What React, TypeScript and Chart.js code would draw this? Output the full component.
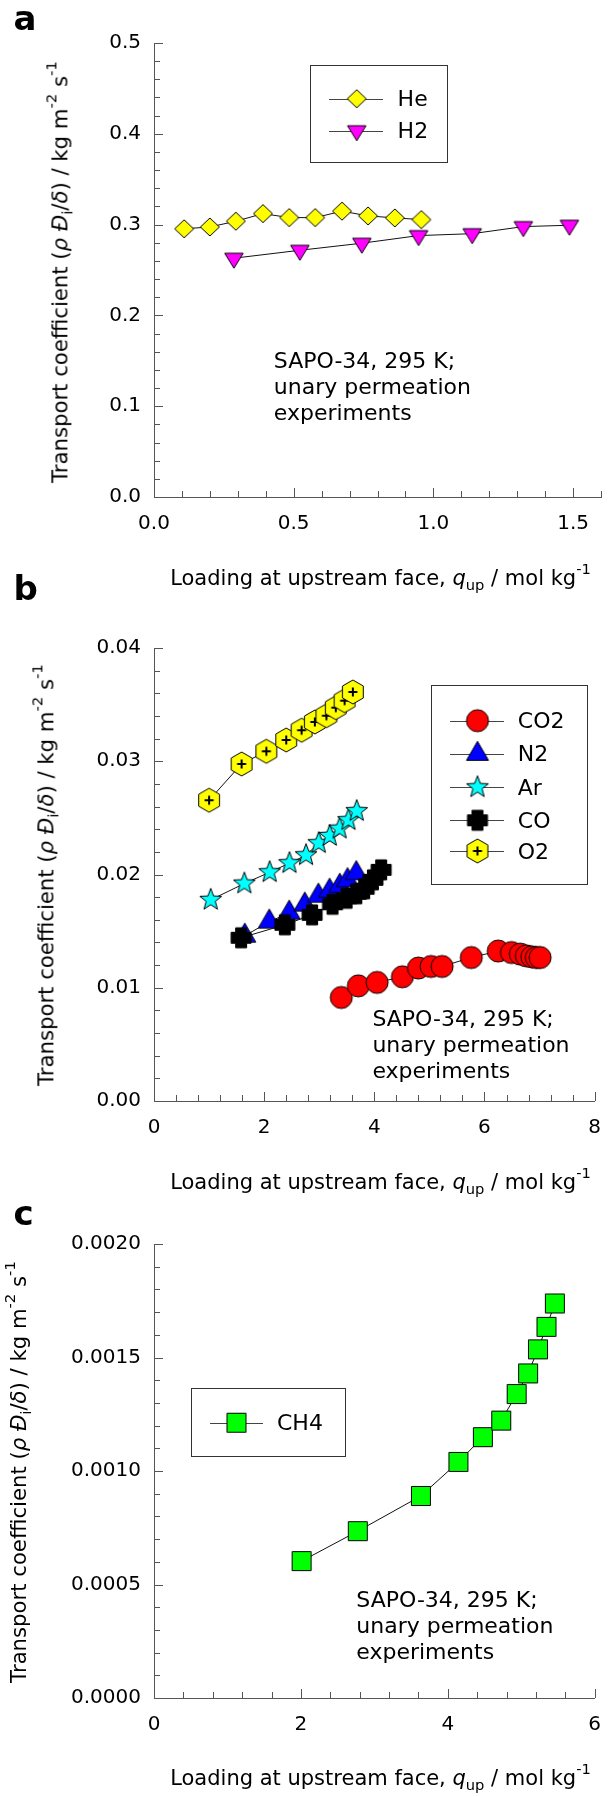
import React, { useEffect, useRef } from 'react';
import { Chart, registerables } from 'chart.js';

Chart.register(...registerables);

// ---------------- data ----------------
const heX = [0.108, 0.2, 0.293, 0.39, 0.484, 0.577, 0.673, 0.766, 0.862, 0.957];
const heY = [0.2954, 0.2974, 0.3037, 0.3121, 0.3077, 0.3077, 0.3148, 0.3096, 0.3074, 0.3055];
const h2X = [0.286, 0.522, 0.744, 0.947, 1.139, 1.322, 1.487];
const h2Y = [0.263, 0.2717, 0.2795, 0.2879, 0.29, 0.2978, 0.2993];

const co2X = [3.4, 3.71, 4.05, 4.51, 4.8, 5.03, 5.23, 5.76, 6.25, 6.49, 6.65, 6.76, 6.86, 6.94, 7.01];
const co2Y = [0.00914, 0.01017, 0.01047, 0.01097, 0.01174, 0.01188, 0.01188, 0.01267, 0.01324, 0.01311, 0.01297, 0.01282, 0.01273, 0.01267, 0.01267];
const n2X = [1.648, 2.093, 2.455, 2.737, 2.985, 3.188, 3.373, 3.514, 3.673];
const n2Y = [0.01459, 0.01583, 0.01662, 0.01733, 0.01812, 0.01856, 0.019, 0.01949, 0.02011];
const arX = [1.03, 1.64, 2.1, 2.46, 2.76, 2.99, 3.19, 3.37, 3.53, 3.68];
const arY = [0.01776, 0.0192, 0.0202, 0.021, 0.0217, 0.02277, 0.0234, 0.02405, 0.0248, 0.0256];
const coX = [1.581, 2.375, 2.87, 3.241, 3.497, 3.673, 3.815, 3.974, 4.124];
const coY = [0.01441, 0.01556, 0.01644, 0.01737, 0.0179, 0.0183, 0.01874, 0.01953, 0.02041];
const o2X = [1.0, 1.59, 2.04, 2.4, 2.68, 2.92, 3.13, 3.3, 3.46, 3.61];
const o2Y = [0.02656, 0.02976, 0.03088, 0.03188, 0.03274, 0.03347, 0.03402, 0.03473, 0.03535, 0.03612];

const ch4X = [2.01, 2.775, 3.634, 4.145, 4.478, 4.728, 4.938, 5.094, 5.228, 5.344, 5.458];
const ch4Y = [0.000603, 0.000735, 0.00089, 0.00104, 0.001149, 0.001222, 0.001339, 0.00143, 0.001536, 0.001635, 0.001738];

const annotationLines = ['SAPO-34, 295 K;', 'unary permeation', 'experiments'];

// ---------------- styling ----------------
const FONT = 'DejaVu Sans';
const AXIS = '#555';

function makeMarker(kind: string, fill: string): HTMLCanvasElement {
  const S = 32;
  const c = document.createElement('canvas');
  c.width = S;
  c.height = S;
  const g = c.getContext('2d')!;
  const cx = S / 2;
  const cy = S / 2;
  g.fillStyle = fill;
  g.strokeStyle = '#000';
  g.lineWidth = 1;
  g.beginPath();
  if (kind === 'diamond') {
    const rx = 9.5, ry = 9;
    g.moveTo(cx, cy - ry); g.lineTo(cx + rx, cy); g.lineTo(cx, cy + ry); g.lineTo(cx - rx, cy); g.closePath();
  } else if (kind === 'triDown') {
    const w = 18.5, h = 15;
    g.moveTo(cx - w / 2, cy - h / 3); g.lineTo(cx + w / 2, cy - h / 3); g.lineTo(cx, cy + (2 * h) / 3); g.closePath();
  } else if (kind === 'triUp') {
    const w = 22, h = 19;
    g.moveTo(cx - w / 2, cy + h / 3); g.lineTo(cx + w / 2, cy + h / 3); g.lineTo(cx, cy - (2 * h) / 3); g.closePath();
  } else if (kind === 'circle') {
    g.arc(cx, cy, 11, 0, Math.PI * 2);
  } else if (kind === 'star') {
    const R = 11.5, r = 4.8;
    for (let i = 0; i < 10; i++) {
      const a = -Math.PI / 2 + (i * Math.PI) / 5;
      const rr = i % 2 === 0 ? R : r;
      const px = cx + rr * Math.cos(a), py = cy + rr * Math.sin(a);
      if (i === 0) g.moveTo(px, py); else g.lineTo(px, py);
    }
    g.closePath();
  } else if (kind === 'plus') {
    const a = 10, b = 5.5;
    const pts = [[-b, -a], [b, -a], [b, -b], [a, -b], [a, b], [b, b], [b, a], [-b, a], [-b, b], [-a, b], [-a, -b], [-b, -b]];
    pts.forEach((p, i) => (i === 0 ? g.moveTo(cx + p[0], cy + p[1]) : g.lineTo(cx + p[0], cy + p[1])));
    g.closePath();
  } else if (kind === 'hex') {
    const R = 12;
    for (let k = 0; k < 6; k++) {
      const a = -Math.PI / 2 + (k * Math.PI) / 3;
      const px = cx + R * Math.cos(a), py = cy + R * Math.sin(a);
      if (k === 0) g.moveTo(px, py); else g.lineTo(px, py);
    }
    g.closePath();
  } else if (kind === 'square') {
    const h = 9.5;
    g.rect(cx - h, cy - h, 2 * h, 2 * h);
  }
  g.fill();
  g.stroke();
  if (kind === 'hex') {
    g.beginPath();
    g.lineWidth = 2;
    g.moveTo(cx - 4.5, cy); g.lineTo(cx + 4.5, cy);
    g.moveTo(cx, cy - 4.5); g.lineTo(cx, cy + 4.5);
    g.stroke();
  }
  return c;
}

type Series = { label: string; xs: number[]; ys: number[]; kind: string; fill: string; order: number };

type PanelProps = {
  top: number;
  height: number;
  areaTop: number;
  areaBottom: number;
  xMax: number; xStep: number; xMajor: number; xDec: number;
  yMax: number; yStep: number; yMajor: number; yDec: number;
  series: Series[];
  legendBox: [number, number, number, number];
  legendLine: [number, number];
  legendMarkerX: number;
  legendYs: number[];
};

const isMult = (v: number, m: number) => Math.abs(v / m - Math.round(v / m)) < 1e-6;

function Panel(p: PanelProps) {
  const ref = useRef<HTMLCanvasElement>(null);
  useEffect(() => {
    const markers = p.series.map((s) => makeMarker(s.kind, s.fill));
    const tickPlugin = {
      id: 'inwardTicks',
      beforeDatasetsDraw(chart: any) {
        const { ctx, chartArea } = chart;
        const xs = chart.scales.x, ys = chart.scales.y;
        ctx.save();
        ctx.strokeStyle = AXIS;
        ctx.lineWidth = 1;
        ctx.beginPath();
        xs.ticks.forEach((t: any) => {
          const px = Math.round(xs.getPixelForValue(t.value)) + 0.5;
          const len = t.label ? 9 : 6;
          ctx.moveTo(px, chartArea.bottom);
          ctx.lineTo(px, chartArea.bottom - len);
        });
        ys.ticks.forEach((t: any) => {
          const py = Math.round(ys.getPixelForValue(t.value)) + 0.5;
          const len = t.label ? 9 : 6;
          ctx.moveTo(chartArea.left, py);
          ctx.lineTo(chartArea.left + len, py);
        });
        ctx.stroke();
        ctx.restore();
      },
    };
    const legendPlugin = {
      id: 'boxLegend',
      afterDraw(chart: any) {
        const { ctx } = chart;
        const [bx, by, bw, bh] = p.legendBox;
        ctx.save();
        ctx.strokeStyle = '#333';
        ctx.lineWidth = 1;
        ctx.strokeRect(Math.round(bx) + 0.5, Math.round(by) + 0.5, Math.round(bw), Math.round(bh));
        p.series.forEach((s, i) => {
          const y = p.legendYs[i];
          ctx.strokeStyle = '#444';
          ctx.beginPath();
          ctx.moveTo(p.legendLine[0], Math.round(y) + 0.5);
          ctx.lineTo(p.legendLine[1], Math.round(y) + 0.5);
          ctx.stroke();
          const m = markers[i];
          ctx.drawImage(m, p.legendMarkerX - m.width / 2, y - m.height / 2);
        });
        ctx.restore();
      },
    };
    const tickFont = { family: FONT, size: 20 };
    const chart = new Chart(ref.current!, {
      type: 'scatter',
      data: {
        datasets: p.series.map((s, i) => ({
          label: s.label,
          data: s.xs.map((x, j) => ({ x, y: s.ys[j] })),
          showLine: true,
          borderColor: '#111',
          borderWidth: 1,
          backgroundColor: s.fill,
          pointStyle: markers[i] as any,
          pointRadius: 6,
          pointHoverRadius: 6,
          order: s.order,
          clip: false as any,
        })),
      },
      options: {
        responsive: false,
        animation: false,
        events: [],
        layout: { padding: { top: p.areaTop, right: 9, left: 0, bottom: 0 } },
        plugins: { legend: { display: false }, tooltip: { enabled: false } },
        scales: {
          x: {
            type: 'linear',
            position: 'bottom',
            min: 0,
            max: p.xMax,
            grid: { display: false, drawTicks: false },
            border: { display: true, color: AXIS, width: 1 },
            ticks: {
              stepSize: p.xStep,
              autoSkip: false,
              maxRotation: 0,
              minRotation: 0,
              padding: 15,
              color: '#000',
              font: tickFont,
              callback: (v: any) => (isMult(Number(v), p.xMajor) ? Number(v).toFixed(p.xDec) : ''),
            },
            afterFit: (s: any) => {
              s.height = p.height - p.areaBottom;
            },
          },
          y: {
            type: 'linear',
            position: 'left',
            min: 0,
            max: p.yMax,
            grid: { display: false, drawTicks: false },
            border: { display: true, color: AXIS, width: 1 },
            ticks: {
              stepSize: p.yStep,
              autoSkip: false,
              padding: 13,
              color: '#000',
              font: tickFont,
              callback: (v: any) => (isMult(Number(v), p.yMajor) ? Number(v).toFixed(p.yDec) : ''),
            },
            afterFit: (s: any) => {
              s.width = 154;
            },
          },
        },
      } as any,
      plugins: [tickPlugin, legendPlugin],
    });
    return () => chart.destroy();
  }, []);
  return (
    <canvas
      ref={ref}
      width={616}
      height={p.height}
      style={{ position: 'absolute', left: 0, top: p.top, width: 616, height: p.height }}
    />
  );
}

// ---------------- text helpers ----------------
function Txt(props: { x: number; base: number; size: number; lh?: number; bold?: boolean; center?: boolean; children: any }) {
  const lh = props.lh ?? props.size;
  return (
    <div
      style={{
        position: 'absolute',
        left: props.x,
        top: props.base - lh / 2 - 0.346 * props.size,
        fontSize: props.size,
        lineHeight: lh + 'px',
        fontWeight: props.bold ? 'bold' : 'normal',
        whiteSpace: 'nowrap',
        fontFamily: FONT,
        transform: props.center ? 'translateX(-50%)' : undefined,
      }}
    >
      {props.children}
    </div>
  );
}

const Sup = ({ children }: any) => (
  <span style={{ fontSize: '0.7em', position: 'relative', top: '-0.75em' }}>{children}</span>
);
const Sub = ({ children }: any) => (
  <span style={{ fontSize: '0.7em', position: 'relative', top: '0.33em' }}>{children}</span>
);

function XTitle({ base }: { base: number }) {
  return (
    <Txt x={380.5} base={base} size={21} center>
      Loading at upstream face, <i>q</i>
      <Sub>up</Sub> / mol kg
      <Sup>-1</Sup>
    </Txt>
  );
}

function YTitle({ cx, cy }: { cx: number; cy: number }) {
  const S = 21.2;
  return (
    <div
      style={{
        position: 'absolute',
        left: cx,
        top: cy,
        transform: 'translate(-50%,-50%) rotate(-90deg)',
        fontSize: S,
        lineHeight: S + 'px',
        whiteSpace: 'nowrap',
        fontFamily: FONT,
      }}
    >
      Transport coefficient (<i>ρ</i> <i>Đ</i>
      <Sub>i</Sub>/<i>δ</i>) / kg m<Sup>-2</Sup> s<Sup>-1</Sup>
    </div>
  );
}

function Annotation({ x, base }: { x: number; base: number }) {
  return (
    <Txt x={x} base={base} size={22} lh={26.2}>
      {annotationLines.map((l, i) => (
        <div key={i}>{l}</div>
      ))}
    </Txt>
  );
}

export default function App() {
  const seriesA: Series[] = [
    { label: 'He', xs: heX, ys: heY, kind: 'diamond', fill: '#FFFF00', order: 1 },
    { label: 'H2', xs: h2X, ys: h2Y, kind: 'triDown', fill: '#FF00FF', order: 1 },
  ];
  const seriesB: Series[] = [
    { label: 'CO2', xs: co2X, ys: co2Y, kind: 'circle', fill: '#FF0000', order: 1 },
    { label: 'N2', xs: n2X, ys: n2Y, kind: 'triUp', fill: '#0000FF', order: 2 },
    { label: 'Ar', xs: arX, ys: arY, kind: 'star', fill: '#00FFFF', order: 1 },
    { label: 'CO', xs: coX, ys: coY, kind: 'plus', fill: '#000000', order: 0 },
    { label: 'O2', xs: o2X, ys: o2Y, kind: 'hex', fill: '#FFFF00', order: 1 },
  ];
  const seriesC: Series[] = [
    { label: 'CH4', xs: ch4X, ys: ch4Y, kind: 'square', fill: '#00FF00', order: 1 },
  ];
  return (
    <div
      style={{
        position: 'absolute',
        left: 0,
        top: 0,
        width: 616,
        height: 1796,
        background: '#fff',
        overflow: 'hidden',
        fontFamily: FONT,
        color: '#000',
      }}
    >
      <Panel
        top={0}
        height={600}
        areaTop={43}
        areaBottom={497}
        xMax={1.6} xStep={0.1} xMajor={0.5} xDec={1}
        yMax={0.5} yStep={0.02} yMajor={0.1} yDec={1}
        series={seriesA}
        legendBox={[310, 65, 137, 97]}
        legendLine={[329, 383]}
        legendMarkerX={356.7}
        legendYs={[98.7, 130.7]}
      />
      <Panel
        top={600}
        height={600}
        areaTop={48}
        areaBottom={501}
        xMax={8} xStep={0.4} xMajor={2} xDec={0}
        yMax={0.04} yStep={0.002} yMajor={0.01} yDec={2}
        series={seriesB}
        legendBox={[431, 85, 156, 199]}
        legendLine={[450, 504]}
        legendMarkerX={477.5}
        legendYs={[120.7, 154, 187.3, 220.3, 251]}
      />
      <Panel
        top={1200}
        height={596}
        areaTop={44}
        areaBottom={498}
        xMax={6} xStep={0.4} xMajor={2} xDec={0}
        yMax={0.002} yStep={0.0001} yMajor={0.0005} yDec={4}
        series={seriesC}
        legendBox={[190.5, 187.7, 153.5, 68]}
        legendLine={[210, 263]}
        legendMarkerX={236.5}
        legendYs={[222.7]}
      />

      {/* panel letters */}
      <Txt x={13.5} base={30} size={34} bold>a</Txt>
      <Txt x={13.5} base={600} size={34} bold>b</Txt>
      <Txt x={13.5} base={1225} size={34} bold>c</Txt>

      {/* axis titles */}
      <YTitle cx={60.9} cy={272} />
      <YTitle cx={47.2} cy={875} />
      <YTitle cx={19.8} cy={1471.5} />
      <XTitle base={586} />
      <XTitle base={1189.5} />
      <XTitle base={1786} />

      {/* annotations */}
      <Annotation x={273.8} base={368.3} />
      <Annotation x={372.4} base={1026.7} />
      <Annotation x={356.3} base={1607.3} />

      {/* legend labels */}
      <Txt x={397.6} base={106.7} size={22}>He</Txt>
      <Txt x={397.6} base={138.7} size={22}>H2</Txt>
      <Txt x={517.8} base={728.5} size={22}>CO2</Txt>
      <Txt x={517.8} base={761.5} size={22}>N2</Txt>
      <Txt x={517.8} base={795.2} size={22}>Ar</Txt>
      <Txt x={517.8} base={828.3} size={22}>CO</Txt>
      <Txt x={517.8} base={859.2} size={22}>O2</Txt>
      <Txt x={277} base={1430.7} size={22}>CH4</Txt>
    </div>
  );
}
